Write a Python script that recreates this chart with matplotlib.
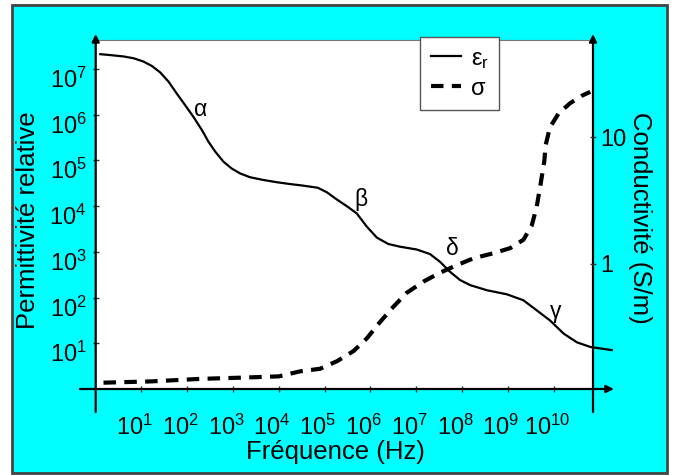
import numpy as np
import matplotlib
matplotlib.use("Agg")
import matplotlib.pyplot as plt
from matplotlib.patches import Rectangle
from matplotlib.ticker import FixedLocator, FuncFormatter, NullLocator
from matplotlib.transforms import ScaledTranslation

plt.rcParams["font.family"] = ["Liberation Sans", "DejaVu Sans"]
plt.rcParams["mathtext.fontset"] = "custom"
plt.rcParams["mathtext.rm"] = "Liberation Sans"
plt.rcParams["mathtext.it"] = "Liberation Sans:italic"

# permittivity curve, read as log10(f) / log10(eps_r)
eps_logf = [0.10, 0.32, 0.61, 0.83, 1.04, 1.23, 1.41, 1.59, 1.77, 1.95, 2.14, 2.32,
            2.46, 2.61, 2.79, 2.97, 3.16, 3.37, 3.66, 3.96, 4.25, 4.50, 4.85, 5.05,
            5.27, 5.48, 5.70, 5.92, 6.14, 6.39, 6.65, 7.01, 7.30, 7.52, 7.74, 7.96,
            8.18, 8.54, 8.98, 9.34, 9.63, 9.92, 10.22, 10.51, 10.80, 11.27]
eps_log = [7.32, 7.30, 7.27, 7.23, 7.16, 7.06, 6.92, 6.72, 6.46, 6.21, 5.94, 5.66,
           5.41, 5.19, 4.97, 4.82, 4.71, 4.63, 4.57, 4.52, 4.48, 4.45, 4.40, 4.30,
           4.14, 4.00, 3.84, 3.55, 3.31, 3.17, 3.11, 3.05, 2.95, 2.78, 2.56, 2.38,
           2.27, 2.16, 2.07, 1.94, 1.72, 1.50, 1.21, 1.02, 0.92, 0.85]

# conductivity curve, read as log10(f) / log10(sigma)
sig_logf = [0.17, 1.20, 2.28, 3.20, 4.00, 4.47, 4.90, 5.27, 5.63, 5.92, 6.21, 6.50,
            6.79, 7.16, 7.52, 7.89, 8.26, 8.69, 9.05, 9.34, 9.52, 9.63, 9.72, 9.80,
            9.82, 9.92, 10.11, 10.36, 10.62, 10.80]
sig_log = [-0.94, -0.93, -0.91, -0.90, -0.89, -0.85, -0.83, -0.77, -0.69, -0.59, -0.46,
           -0.34, -0.23, -0.14, -0.07, -0.01, 0.045, 0.084, 0.124, 0.19, 0.30, 0.45,
           0.64, 0.82, 0.93, 1.08, 1.19, 1.27, 1.33, 1.36]

# labels of the dispersion zones: (text, log10 f, log10 eps)
zones = [("α", 2.30, 6.12), ("β", 5.80, 4.14), ("δ", 7.78, 3.08), ("γ", 10.05, 1.70)]

x_ticks = list(range(1, 11))
eps_ticks = list(range(1, 8))
sig_ticks = [1, 10]

fig = plt.figure(figsize=(6.74, 4.75), dpi=100)
fig.patch.set_facecolor("white")
fig.patches.append(Rectangle((11.7 / 674, 2.5 / 475), 655.5 / 674, 467.5 / 475,
                             transform=fig.transFigure, facecolor="#00ffff",
                             edgecolor="#444444", linewidth=2, zorder=-5))

ax = fig.add_axes([95.7 / 674, 86 / 475, 497.3 / 674, 349 / 475])
ax.set_facecolor("white")
ax.set_xscale("log")
ax.set_yscale("log")
ax.set_xlim(1, 10 ** 10.86)
ax.set_ylim(1, 10 ** 7.63)

ax.plot(10 ** np.array(eps_logf), 10 ** np.array(eps_log), color="black", lw=1.6,
        clip_on=False, label="ε$_\\mathregular{r}$")

for s in ["left", "right", "bottom"]:
    ax.spines[s].set_visible(False)
ax.spines["top"].set_color("#777777")
ax.spines["top"].set_linewidth(0.8)

pow_fmt = FuncFormatter(lambda v, p: "$\\mathregular{10^{%d}}$" % round(np.log10(v)))
ax.xaxis.set_major_locator(FixedLocator([10.0 ** k for k in x_ticks]))
ax.xaxis.set_minor_locator(NullLocator())
ax.xaxis.set_major_formatter(pow_fmt)
ax.yaxis.set_major_locator(FixedLocator([10.0 ** k for k in eps_ticks]))
ax.yaxis.set_minor_locator(NullLocator())
ax.yaxis.set_major_formatter(pow_fmt)
ax.tick_params(axis="both", direction="inout", length=5, width=1, color="#333333",
               labelsize=17)
ax.tick_params(axis="x", pad=16)
ax.tick_params(axis="y", pad=4)

ax2 = ax.twinx()
ax2.set_yscale("log")
ax2.set_ylim(10 ** -0.99, 10 ** 1.77)
ax2.plot(10 ** np.array(sig_logf), 10 ** np.array(sig_log), color="black", lw=3,
         linestyle=(0, (3.0, 2.0)), clip_on=False, label="σ")
for s in ax2.spines.values():
    s.set_visible(False)
ax2.yaxis.set_major_locator(FixedLocator(sig_ticks))
ax2.yaxis.set_minor_locator(NullLocator())
ax2.yaxis.set_major_formatter(FuncFormatter(lambda v, p: "%d" % v))
ax2.tick_params(axis="y", direction="inout", length=5, width=1, color="#333333",
                labelsize=17, pad=3)

# axis lines with arrows
arrow = dict(arrowstyle="-|>", lw=1.6, color="black", mutation_scale=11,
             shrinkA=0, shrinkB=0)
ax.annotate("", xy=(0, 1.017), xytext=(0, -0.066), xycoords="axes fraction", arrowprops=arrow)
ax.annotate("", xy=(1, 1.017), xytext=(1, -0.066), xycoords="axes fraction", arrowprops=arrow)
ax.annotate("", xy=(1.042, 0), xytext=(-0.032, 0), xycoords="axes fraction", arrowprops=arrow)

# tick label offsets as in the original
for lab in ax.get_xticklabels():
    lab.set_transform(lab.get_transform() + ScaledTranslation(-0.07, 0, fig.dpi_scale_trans))
for lab in ax.get_yticklabels():
    lab.set_transform(lab.get_transform() + ScaledTranslation(0, -0.09, fig.dpi_scale_trans))

for txt, lf, le in zones:
    ax.text(10 ** lf, 10 ** le, txt, fontsize=16.5, ha="center", va="center")

fig.text(335 / 674, 1 - 452 / 475, "Fréquence (Hz)", fontsize=18.5, ha="center", va="center")
fig.text(28 / 674, 1 - 220 / 475, "Permittivité relative", fontsize=18.5, ha="center",
         va="center", rotation=90)
fig.text(640 / 674, 1 - 218 / 475, "Conductivité (S/m)", fontsize=18.5, ha="center",
         va="center", rotation=270)

h1, l1 = ax.get_legend_handles_labels()
h2, l2 = ax2.get_legend_handles_labels()
leg = ax2.legend(h1 + h2, l1 + l2, loc="upper left", bbox_to_anchor=(420 / 674, 1 - 37 / 475),
                 bbox_transform=fig.transFigure, borderaxespad=0, fontsize=17,
                 handlelength=1.3, handletextpad=0.4, borderpad=0.45, labelspacing=0.3,
                 fancybox=False, framealpha=1, edgecolor="#555555")
leg.get_frame().set_linewidth(1)

fig.savefig("out.png", dpi=100, facecolor=fig.get_facecolor())
